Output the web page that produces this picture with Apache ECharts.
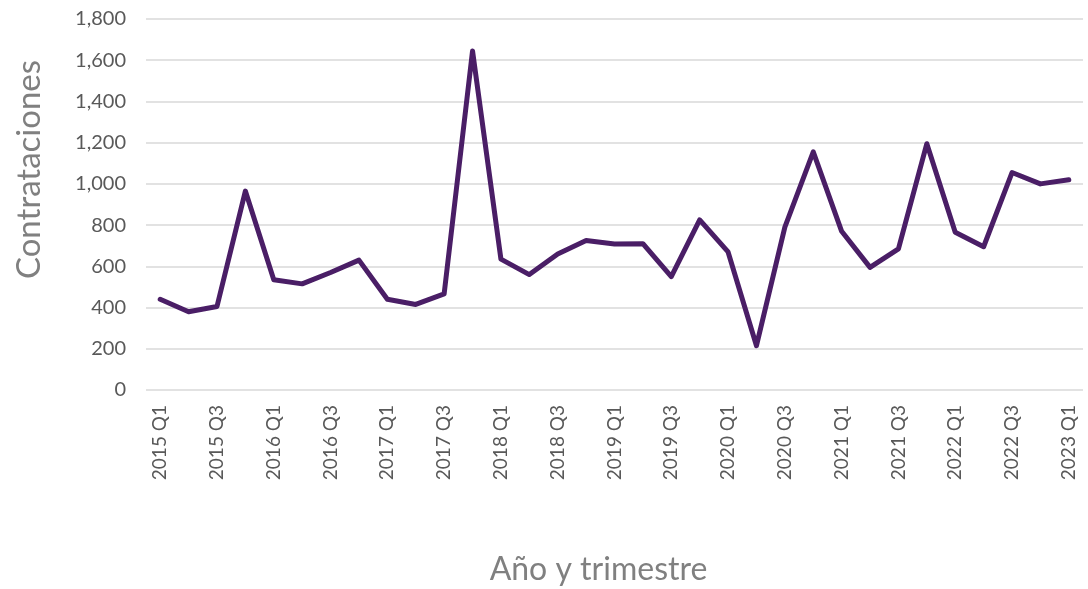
<!DOCTYPE html>
<html>
<head>
<meta charset="utf-8">
<script src="https://cdn.jsdelivr.net/npm/echarts@6/dist/echarts.min.js"></script>
<style>
  html, body { margin: 0; padding: 0; background: #fff; }
  #chart { width: 1088px; height: 589px; }
</style>
</head>
<body>
<div id="chart"></div>
<script>
// trimestres 2015 Q1 .. 2023 Q1
const years = [2015, 2016, 2017, 2018, 2019, 2020, 2021, 2022, 2023]
const quarters = ['Q1', 'Q2', 'Q3', 'Q4']
const categories = []
years.forEach(y => {
  quarters.forEach(q => {
    if (y < 2023 || q === 'Q1') categories.push(y + ' ' + q)
  })
})

const contrataciones = [
  440, 380, 405, 965,
  535, 515, 570, 630,
  440, 415, 466, 1645,
  635, 560, 660, 725,
  708, 710, 550, 825,
  670, 215, 790, 1155,
  770, 595, 685, 1195,
  765, 695, 1055, 1000,
  1020
]

const yTicks = [0, 200, 400, 600, 800, 1000, 1200, 1400, 1600, 1800]

const chart = echarts.init(document.getElementById('chart'))
const option = {
  animation: false,
  grid: {
    left: 146,
    right: 5,
    top: 19,
    bottom: 199,
    outerBoundsMode: 'none'
  },
  xAxis: {
    type: 'category',
    data: categories,
    boundaryGap: true,
    name: 'Año y trimestre',
    nameLocation: 'middle',
    nameGap: 164,
    nameTextStyle: {
      fontFamily: 'Lato',
      fontSize: 32,
      color: '#808080',
      padding: [0, 32, 0, 0]
    },
    axisLine: { show: false },
    axisTick: { show: false },
    axisLabel: {
      interval: 1,
      rotate: 90,
      margin: 15,
      fontFamily: 'Lato',
      fontSize: 19,
      color: '#595959'
    }
  },
  yAxis: {
    type: 'value',
    min: yTicks[0],
    max: yTicks[yTicks.length - 1],
    interval: 200,
    name: 'Contrataciones',
    nameLocation: 'middle',
    nameGap: 100,
    nameTextStyle: {
      fontFamily: 'Lato',
      fontSize: 33,
      color: '#808080',
      padding: [0, 0, 0, 70]
    },
    axisLine: { show: false },
    axisTick: { show: false },
    axisLabel: {
      margin: 20,
      fontFamily: 'Lato',
      fontSize: 20,
      color: '#595959',
      formatter: v => v.toLocaleString('en-US')
    },
    splitLine: {
      lineStyle: { color: '#d9d9d9', width: 1.5 }
    }
  },
  series: [
    {
      name: 'Contrataciones',
      type: 'line',
      data: contrataciones,
      symbol: 'none',
      lineStyle: { color: '#4a1e66', width: 5, join: 'round', cap: 'round' }
    }
  ]
}
chart.setOption(option)
</script>
</body>
</html>
